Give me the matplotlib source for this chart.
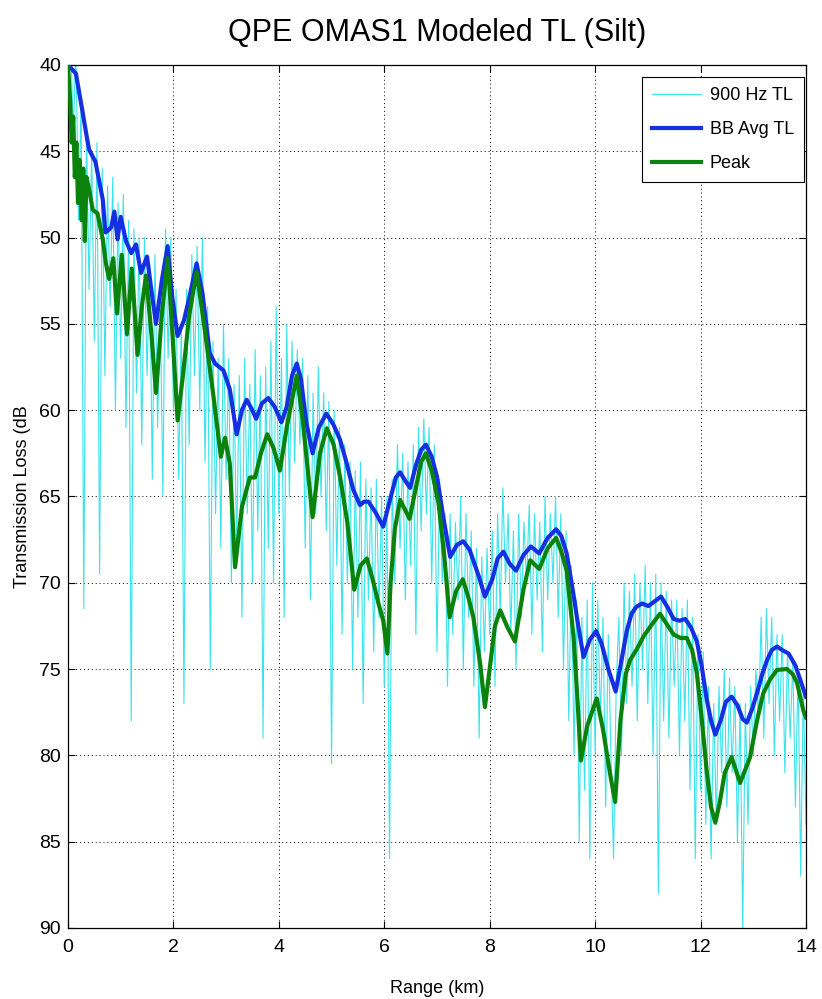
import numpy as np
import matplotlib
matplotlib.use("Agg")
import matplotlib.pyplot as plt

plt.rcParams['font.family'] = ['Liberation Sans Narrow', 'Liberation Sans', 'DejaVu Sans']

# 900 Hz single-frequency TL, sampled every 0.05 km
tl900_range = np.round(np.arange(0, 14.0001, 0.05), 2)
tl900 = [
    40.5, 38.5, 44, 39, 49, 42, 71.5, 43.5, 53, 45,
    56, 44.5, 69.5, 46, 58, 47, 54, 46.5, 60, 48,
    57, 47.5, 61, 49, 78, 49.5, 59, 50, 62, 50,
    58, 51.5, 64, 51, 61, 53.5, 65, 49.5, 57, 50,
    60, 53, 64, 55, 77, 53, 62, 51, 58, 50.5,
    60, 50, 63, 54, 75, 56, 66, 57, 68, 55,
    64, 57, 70, 58.5, 68, 58, 72, 57, 66, 58.5,
    70, 56.5, 67, 58, 79, 57.5, 68, 56, 70, 54,
    66, 57, 72, 55, 65, 56, 63, 56.5, 62, 57,
    68, 58, 71, 59, 66, 57.5, 65, 59, 67, 59.5,
    80.5, 60, 69, 61, 73, 62, 70, 63, 75, 63.5,
    72, 63, 77, 64, 71, 64.5, 74, 64, 72, 65,
    76, 65, 86, 64, 70, 62, 68, 62.5, 71, 63,
    69, 62, 73, 61, 67, 60.5, 66, 61, 70, 62,
    74, 64, 70, 66, 76, 66, 73, 66.5, 71, 65,
    75, 66, 72, 67, 76, 68, 79, 68.5, 74, 68,
    73, 67, 76, 66, 72, 64.5, 70, 66, 73, 67,
    75, 66, 72, 66.5, 70, 65.5, 73, 66, 71, 66.5,
    74, 65, 71, 66, 70, 65, 72, 66, 75, 67,
    78, 69, 80, 71, 85, 72, 82, 71, 86, 70,
    80, 71, 78, 72, 83, 73, 80, 86, 76, 72,
    80, 70, 77, 70.5, 76, 69.5, 78, 70, 75, 69,
    77, 70, 80, 69.5, 88, 70, 78, 70.5, 79, 71,
    76, 71, 80, 71.5, 78, 71, 82, 72, 86, 73,
    82, 74, 84, 76, 86, 77, 84, 76, 81, 75,
    83, 75.5, 81, 76, 85, 77, 90, 77, 84, 76,
    80, 75, 78, 72, 79, 71.5, 77, 72, 80, 73,
    78, 73, 81, 74, 79, 74.5, 83, 75, 87, 76,
    84,
]

# Broadband-averaged TL
bb_range = [
    0.00, 0.15, 0.27, 0.35, 0.40, 0.45, 0.52, 0.59, 0.66, 0.71, 0.76, 0.82,
    0.88, 0.94, 1.00, 1.10, 1.20, 1.29, 1.385, 1.50, 1.58, 1.67, 1.78, 1.89,
    1.98, 2.08, 2.20, 2.30, 2.44, 2.55, 2.69, 2.79, 2.95, 3.07, 3.20, 3.30,
    3.39, 3.48, 3.57, 3.68, 3.80, 3.92, 4.05, 4.15, 4.25, 4.34, 4.42, 4.52,
    4.64, 4.76, 4.90, 5.03, 5.16, 5.28, 5.41, 5.54, 5.62, 5.70, 5.83, 5.98,
    6.10, 6.22, 6.30, 6.40, 6.49, 6.60, 6.70, 6.79, 6.90, 7.00, 7.12, 7.25,
    7.38, 7.50, 7.62, 7.79, 7.91, 8.05, 8.15, 8.26, 8.38, 8.50, 8.64, 8.78,
    8.94, 9.10, 9.26, 9.36, 9.46, 9.58, 9.68, 9.78, 9.90, 10.02, 10.12, 10.25,
    10.39, 10.50, 10.60, 10.69, 10.78, 10.89, 11.01, 11.12, 11.25, 11.37, 11.49, 11.60,
    11.71, 11.82, 11.93, 12.02, 12.12, 12.20, 12.28, 12.38, 12.48, 12.59, 12.70, 12.80,
    12.88, 12.98, 13.07, 13.17, 13.26, 13.35, 13.45, 13.55, 13.67, 13.80, 13.90, 14.00,
]
bb_tl = [
    40.0, 40.5, 42.6, 44.05, 44.9, 45.2, 45.6, 46.7, 47.8, 49.7, 49.6, 49.4,
    48.5, 50.1, 48.8, 50.2, 50.9, 50.4, 52.05, 51.1, 53.0, 55.0, 52.5, 50.5,
    53.5, 55.7, 54.8, 53.5, 51.5, 53.2, 56.7, 57.3, 57.7, 58.8, 61.4, 60.0,
    59.4, 59.9, 60.5, 59.6, 59.3, 59.8, 60.7, 59.8, 58.0, 57.3, 58.2, 60.7,
    62.5, 61.0, 60.2, 60.8, 61.7, 63.0, 64.6, 65.5, 65.3, 65.3, 65.9, 66.75,
    65.3, 63.9, 63.6, 64.1, 64.5, 63.2, 62.3, 62.0, 62.7, 63.85, 66.2, 68.5,
    67.8, 67.6, 68.1, 69.6, 70.8, 69.8, 68.6, 68.2, 68.9, 69.3, 68.4, 67.9,
    68.3, 67.4, 66.9, 67.3, 68.3, 70.5, 72.5, 74.3, 73.3, 72.8, 73.5, 75.0,
    76.3, 74.5, 72.8, 71.8, 71.4, 71.2, 71.35, 71.1, 70.8, 71.4, 72.1, 72.2,
    72.1, 72.6, 73.4, 74.8, 76.8, 78.0, 78.8, 78.0, 76.9, 76.6, 77.1, 77.9,
    78.1, 77.3, 76.4, 75.3, 74.5, 73.9, 73.7, 73.9, 74.1, 74.8, 75.7, 76.6,
]

# Peak TL
peak_range = [
    0.00, 0.04, 0.07, 0.10, 0.13, 0.16, 0.19, 0.22, 0.26, 0.29, 0.32, 0.35,
    0.40, 0.47, 0.56, 0.66, 0.72, 0.78, 0.86, 0.93, 1.02, 1.12, 1.21, 1.32,
    1.40, 1.48, 1.58, 1.67, 1.78, 1.89, 1.98, 2.08, 2.18, 2.30, 2.44, 2.58,
    2.76, 2.90, 2.98, 3.07, 3.17, 3.30, 3.45, 3.55, 3.66, 3.78, 3.90, 4.02,
    4.15, 4.34, 4.45, 4.55, 4.64, 4.78, 4.91, 5.04, 5.16, 5.30, 5.43, 5.55,
    5.67, 5.78, 5.89, 5.98, 6.06, 6.12, 6.20, 6.30, 6.40, 6.48, 6.60, 6.70,
    6.79, 6.90, 7.03, 7.14, 7.24, 7.36, 7.49, 7.60, 7.69, 7.82, 7.91, 8.02,
    8.10, 8.20, 8.34, 8.48, 8.64, 8.77, 8.94, 9.10, 9.26, 9.36, 9.46, 9.59,
    9.66, 9.73, 9.85, 10.03, 10.15, 10.28, 10.38, 10.48, 10.58, 10.66, 10.80, 10.92,
    11.08, 11.23, 11.36, 11.49, 11.62, 11.74, 11.84, 11.93, 12.02, 12.12, 12.20, 12.28,
    12.36, 12.46, 12.59, 12.75, 12.94, 13.07, 13.19, 13.32, 13.45, 13.64, 13.75, 13.83,
    13.95, 14.00,
]
peak_tl = [
    40.0, 42.0, 44.5, 43.0, 46.5, 44.5, 48.0, 45.5, 49.0, 46.0, 50.2, 46.5,
    47.2, 48.4, 48.6, 50.1, 51.5, 52.4, 51.2, 54.4, 51.0, 55.6, 51.8, 56.8,
    54.0, 52.2, 55.5, 59.0, 54.5, 51.2, 55.5, 60.6, 58.0, 54.5, 52.0, 55.0,
    59.2, 62.7, 61.6, 63.1, 69.1, 65.6, 63.9, 63.9, 62.5, 61.4, 62.2, 63.5,
    61.0, 58.0, 60.5, 63.5, 66.2, 62.5, 61.05, 62.0, 63.85, 66.5, 70.4, 69.0,
    68.6, 69.8, 71.2, 72.2, 74.1, 70.0, 66.9, 65.2, 65.8, 66.3, 64.5, 63.0,
    62.5, 63.5, 65.4, 68.5, 72.0, 70.5, 69.8, 70.9, 72.0, 74.7, 77.2, 74.5,
    72.5, 71.6, 72.6, 73.4, 70.4, 68.7, 69.2, 68.0, 67.4, 68.2, 69.3, 73.1,
    76.5, 80.3, 78.3, 76.7, 78.5, 81.0, 82.7, 78.0, 75.3, 74.5, 73.8, 73.1,
    72.4, 71.8, 72.4, 73.0, 73.2, 73.2, 73.9, 75.25, 77.8, 81.0, 83.0, 83.9,
    82.8, 81.0, 80.1, 81.6, 80.1, 78.0, 76.4, 75.6, 75.05, 75.0, 75.3, 75.8,
    77.4, 77.8,
]

x_ticks = [0, 2, 4, 6, 8, 10, 12, 14]
y_ticks = [40, 45, 50, 55, 60, 65, 70, 75, 80, 85, 90]

fig = plt.figure(figsize=(8.22, 9.99), dpi=100)
ax = fig.add_axes([0.0827, 0.0711, 0.8978, 0.8639])

ax.plot(tl900_range, tl900, color='#3ae4ec', lw=0.8, label='900 Hz TL', zorder=2)
ax.plot(bb_range, bb_tl, color='#1530e0', lw=3.0, label='BB Avg TL',
        solid_joinstyle='round', zorder=3)
ax.plot(peak_range, peak_tl, color='#0b820b', lw=3.0, label='Peak',
        solid_joinstyle='round', zorder=4)

ax.set_xlim(0, 14)
ax.set_ylim(90, 40)
ax.set_xticks(x_ticks)
ax.set_yticks(y_ticks)
ax.tick_params(direction='in', length=5, width=0.8, labelsize=14,
               top=True, right=True)
ax.tick_params(axis='x', pad=8)
ax.tick_params(axis='y', pad=5)
ax.grid(True, color='black', linestyle=(0, (1, 3)), linewidth=0.7)
for s in ax.spines.values():
    s.set_linewidth(0.9)

ax.set_title('QPE OMAS1 Modeled TL (Silt)', fontsize=22, pad=17)
ax.set_xlabel('Range (km)', fontsize=13, labelpad=17)
ax.set_ylabel('Transmission Loss (dB', fontsize=13, labelpad=6)

leg = ax.legend(loc='upper right', bbox_to_anchor=(0.997, 0.986), fontsize=13,
                handlelength=2.7, fancybox=False, framealpha=1,
                edgecolor='black', borderaxespad=0, borderpad=0.55,
                labelspacing=0.95, handletextpad=0.5)
leg.get_frame().set_linewidth(0.8)

fig.savefig('out.png', dpi=100)
